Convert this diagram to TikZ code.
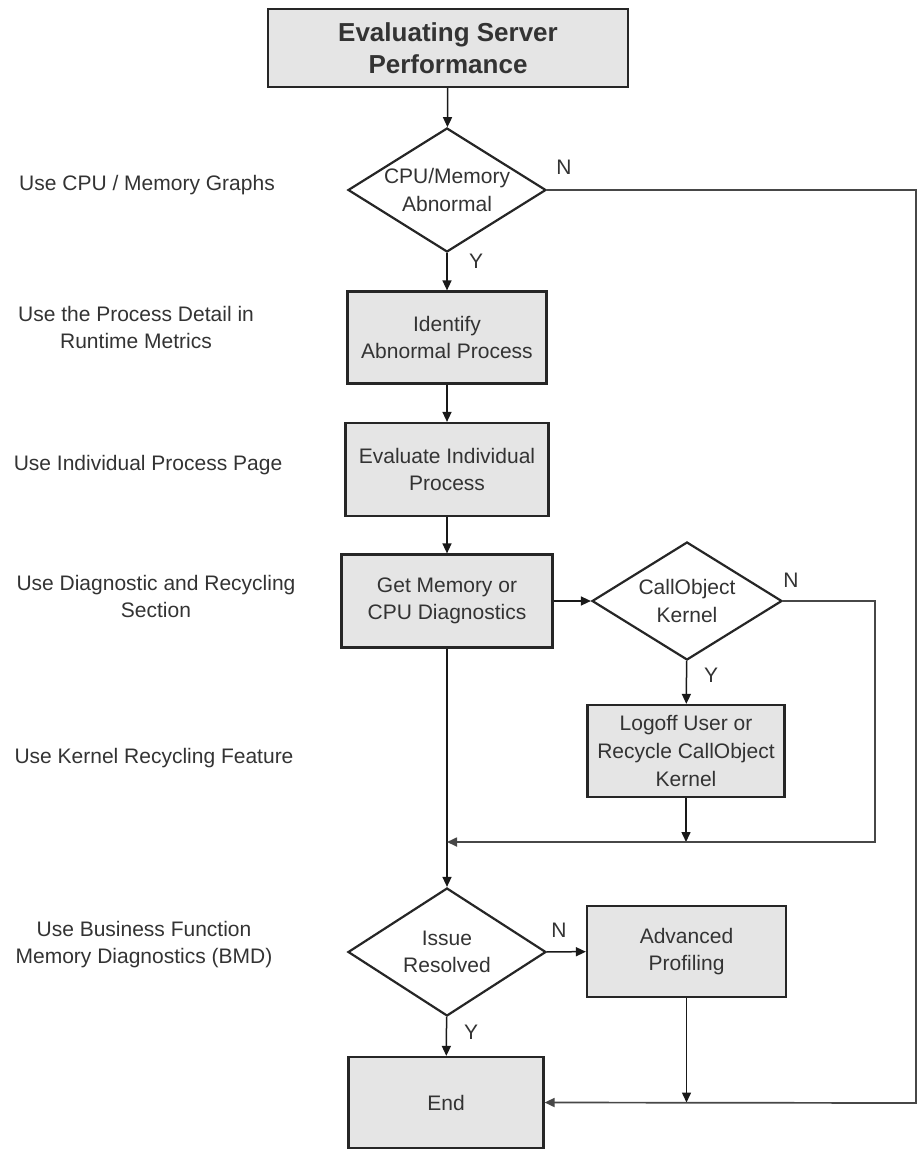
\documentclass[tikz,border=0pt]{standalone}
\usepackage{fontspec}
\setmainfont{Liberation Sans}
\usetikzlibrary{shapes.geometric}
\usetikzlibrary{arrows.meta}

\begin{document}
\begin{tikzpicture}[x=0.5pt,y=-0.5pt]
	 \tikzstyle{process}=[rectangle,draw=black!85,line width=1.1pt,fill=black!10,text=black!80,align=center,inner sep=0pt,font=\fontsize{10.5}{13.8}\selectfont]
	 \tikzstyle{decision}=[diamond,draw=black!85,line width=1.1pt,fill=white,text=black!80,align=center,aspect=1.6,inner sep=-2pt,font=\fontsize{10.5}{13.8}\selectfont]
	 \tikzstyle{edge}=[-{Triangle[length=5pt,width=4.5pt]},black!90,line width=0.75pt]
	 \tikzstyle{back edge}=[edge,black!72,line width=0.85pt]
	 \tikzstyle{note}=[align=center,text=black!80,font=\fontsize{10.5}{13.5}\selectfont]
	 \tikzstyle{answer}=[text=black!80,inner sep=0pt,font=\fontsize{10.5}{12}\selectfont]

	 \useasboundingbox (0,0) rectangle (920,1150);

	 % main column
	 \node[process,minimum width=180pt,minimum height=39pt,font=\fontsize{13}{15.8}\selectfont\bfseries] (start) at (448,48) {Evaluating Server\\Performance};
	 \node[decision,minimum width=99pt,minimum height=62pt] (cpumem) at (447,190) {CPU/Memory\\Abnormal};
	 \node[process,minimum width=99.5pt,minimum height=46pt] (identify) at (447,337.5) {Identify\\Abnormal Process};
	 \node[process,minimum width=101.5pt,minimum height=46.5pt] (evalproc) at (447,469.5) {Evaluate Individual\\Process};
	 \node[process,minimum width=105.5pt,minimum height=46.5pt] (getdiag) at (447,601) {Get Memory or\\CPU Diagnostics};
	 \node[decision,minimum width=99pt,minimum height=64pt] (resolved) at (447,952) {Issue\\Resolved};
	 \node[process,minimum width=97.5pt,minimum height=45.5pt] (finish) at (446,1102.5) {End};

	 % right column
	 \node[decision,minimum width=95pt,minimum height=59pt] (callobj) at (687,601) {CallObject\\Kernel};
	 \node[process,minimum width=98.5pt,minimum height=46pt] (logoff) at (686,751) {Logoff User or\\Recycle CallObject\\Kernel};
	 \node[process,minimum width=99.5pt,minimum height=45.5pt] (advprof) at (686.5,951.5) {Advanced\\Profiling};

	 % notes on the left
	 \node[note] (n1) at (147,185) {Use CPU / Memory Graphs};
	 \node[note] (n2) at (136,327) {Use the Process Detail in\\Runtime Metrics};
	 \node[note] (n3) at (148,465) {Use Individual Process Page};
	 \node[note] (n4) at (156,596) {Use Diagnostic and Recycling\\Section};
	 \node[note] (n5) at (154,758) {Use Kernel Recycling Feature};
	 \node[note] (n6) at (144,945) {Use Business Function\\Memory Diagnostics (BMD)};

	 % Y / N
	 \node[answer] (y1) at (476,261) {Y};
	 \node[answer] (no1) at (564,167) {N};
	 \node[answer] (y2) at (711,675) {Y};
	 \node[answer] (no2) at (791,580) {N};
	 \node[answer] (y3) at (471,1032) {Y};
	 \node[answer] (no3) at (559,930) {N};

	 \coordinate (rtop) at (916,190);
	 \coordinate (rbot) at (916,1103);
	 \coordinate (kright) at (875,601);
	 \coordinate (kdown) at (875,842);
	 \coordinate (merge) at (447,842);

	 \draw[edge] (start) -- (cpumem);
	 \draw[edge] (cpumem) -- (identify);
	 \draw[edge] (identify) -- (evalproc);
	 \draw[edge] (evalproc) -- (getdiag);
	 \draw[edge] (getdiag) -- (callobj);
	 \draw[edge] (callobj) -- (logoff);
	 \draw[edge] (getdiag) -- (resolved);
	 \draw[edge] (resolved) -- (advprof);
	 \draw[edge] (resolved) -- (finish);
	 \draw[edge] (logoff.south) -- (logoff.south |- merge);
	 \draw[edge] (advprof.south) -- (advprof.south |- finish.east);
	 \draw[back edge] (callobj.east) -- (kright) -- (kdown) -- (merge);
	 \draw[back edge] (cpumem.east) -- (rtop) -- (rbot) -- (finish.east);
\end{tikzpicture}
\end{document}
